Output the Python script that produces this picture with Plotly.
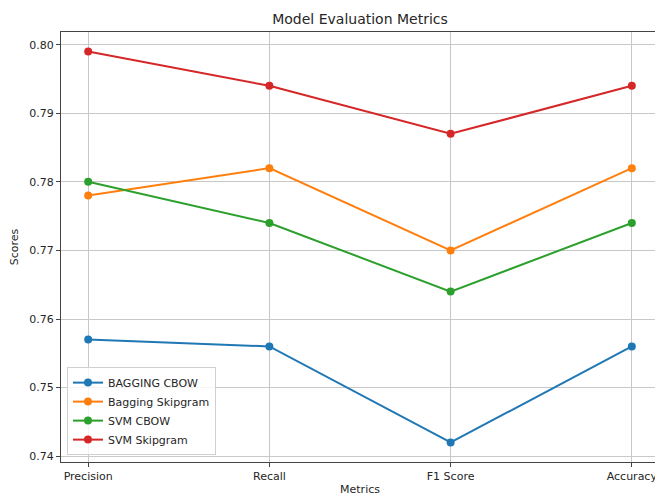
import plotly.graph_objects as go

metrics = ["Precision", "Recall", "F1 Score", "Accuracy"]
bagging_cbow = [0.757, 0.756, 0.742, 0.756]
bagging_skipgram = [0.778, 0.782, 0.770, 0.782]
svm_cbow = [0.780, 0.774, 0.764, 0.774]
svm_skipgram = [0.799, 0.794, 0.787, 0.794]
series_names = ["BAGGING CBOW", "Bagging Skipgram", "SVM CBOW", "SVM Skipgram"]
y_ticks = [0.74, 0.75, 0.76, 0.77, 0.78, 0.79, 0.80]

colors = ["#1f77b4", "#ff7f0e", "#2ca02c", "#d62728"]
xs = list(range(len(metrics)))

fig = go.Figure()
for name, vals, c in zip(series_names, [bagging_cbow, bagging_skipgram, svm_cbow, svm_skipgram], colors):
    fig.add_trace(go.Scatter(x=xs, y=vals, mode="lines+markers", name=name,
                             line=dict(color=c, width=2), marker=dict(color=c, size=8)))

font = "DejaVu Sans, Verdana, sans-serif"
fig.update_layout(
    width=655, height=488,
    margin=dict(l=53, r=4, t=24, b=34, autoexpand=False),
    paper_bgcolor="white", plot_bgcolor="white",
    font=dict(family=font, size=11, color="#262626"),
    title=dict(text="Model Evaluation Metrics", xref="paper", x=0.5, xanchor="center",
               y=1 - 11 / 488, yanchor="middle",
               font=dict(size=14, color="#262626")),
    showlegend=True,
    legend=dict(x=0.01, y=0.016, xanchor="left", yanchor="bottom",
                bgcolor="rgba(255,255,255,0.8)", bordercolor="#d0d0d0", borderwidth=1,
                font=dict(size=11, color="#262626"), tracegroupgap=0, itemwidth=30),
)
fig.update_xaxes(
    range=[-0.15, 3.15], tickvals=xs, ticktext=metrics, automargin=False,
    showgrid=True, gridcolor="#c8c8c8", gridwidth=1,
    ticks="outside", ticklen=4, tickcolor="#444",
    showline=True, linecolor="#444", linewidth=1, mirror=True, zeroline=False,
    title=dict(text="Metrics", font=dict(size=11), standoff=3),
)
fig.update_yaxes(
    range=[0.73915, 0.80185], tickvals=y_ticks, ticktext=[f"{v:.2f}" for v in y_ticks], automargin=False,
    showgrid=True, gridcolor="#c8c8c8", gridwidth=1,
    ticks="outside", ticklen=4, tickcolor="#444",
    showline=True, linecolor="#444", linewidth=1, mirror=True, zeroline=False,
    title=dict(text="Scores", font=dict(size=11), standoff=8),
)
fig.write_html("out.html")
